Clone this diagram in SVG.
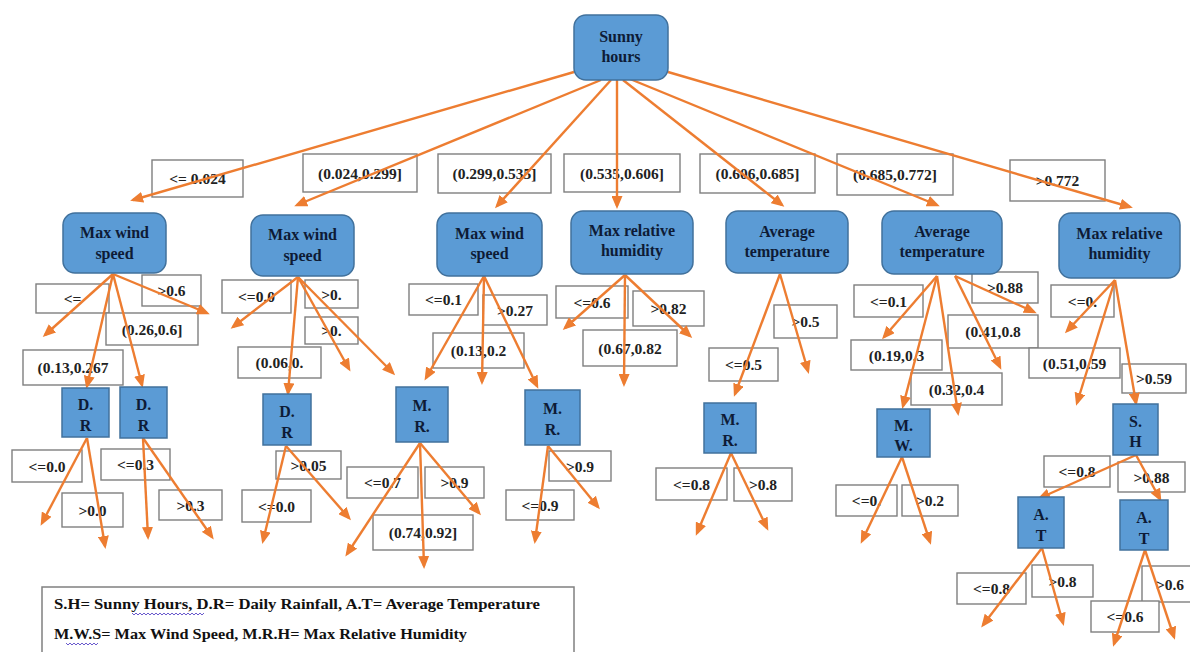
<svg xmlns="http://www.w3.org/2000/svg" width="1190" height="652" viewBox="0 0 1190 652">
<defs>
<marker id="ah" markerUnits="userSpaceOnUse" markerWidth="13" markerHeight="11" refX="10" refY="5.5" orient="auto">
<path d="M0,0 L13,5.5 L0,11 z" fill="#ED7D31"/>
</marker>
<style>
.nd rect{fill:#5B9BD5;stroke:#41719C;stroke-width:1.5}
.nd text{font-family:"Liberation Serif","Times New Roman",serif;font-weight:bold;font-size:16px;fill:#0e1b36;text-anchor:middle}
.lb rect{fill:#fff;stroke:#7f7f7f;stroke-width:1.4}
.lb text{font-family:"Liberation Serif","Times New Roman",serif;font-weight:bold;font-size:15.5px;fill:#222;text-anchor:middle}
.cn path{fill:none;stroke:#ED7D31;stroke-width:2.4;marker-end:url(#ah)}
.lg text{font-family:"Liberation Serif","Times New Roman",serif;font-weight:bold;font-size:14.5px;fill:#111}
</style>
</defs>
<rect width="1190" height="652" fill="#fff"/>

<g id="edge-labels" class="lb">
<rect x="152" y="160" width="91" height="37"/><text x="197.5" y="184">&lt;= 0.024</text>
<rect x="303" y="154" width="114" height="38"/><text x="360" y="178.5">(0.024,0.299]</text>
<rect x="438" y="154" width="113" height="39"/><text x="494.5" y="179">(0.299,0.535]</text>
<rect x="564" y="154" width="116" height="38"/><text x="622" y="178.5">(0.535,0.606]</text>
<rect x="700" y="154" width="115" height="39"/><text x="757.5" y="179">(0.606,0.685]</text>
<rect x="837" y="154" width="116" height="41"/><text x="895" y="180">(0.685,0.772]</text>
<rect x="1010" y="160" width="95" height="41"/><text x="1057.5" y="186">&gt;0.772</text>

<rect x="36" y="284" width="73" height="29"/><text x="72.5" y="304">&lt;=</text>
<rect x="142" y="275" width="59" height="31"/><text x="171.5" y="296">&gt;0.6</text>
<rect x="106" y="313" width="92" height="32"/><text x="152" y="334.5">(0.26,0.6]</text>
<rect x="23" y="350" width="100" height="35"/><text x="73" y="373">(0.13,0.267</text>

<rect x="222" y="280" width="69" height="33"/><text x="256.5" y="302">&lt;=0.0</text>
<rect x="305" y="280" width="53" height="28"/><text x="331.5" y="299.5">&gt;0.</text>
<rect x="305" y="317" width="53" height="27"/><text x="331.5" y="336">&gt;0.</text>
<rect x="238" y="347" width="83" height="31"/><text x="279.5" y="368">(0.06,0.</text>

<rect x="409" y="284" width="69" height="31"/><text x="443.5" y="305">&lt;=0.1</text>
<rect x="483" y="295" width="64" height="30"/><text x="515" y="315.5">&gt;0.27</text>
<rect x="433" y="333" width="91" height="35"/><text x="478.5" y="356">(0.13,0.2</text>

<rect x="556" y="286" width="72" height="32"/><text x="592" y="307.5">&lt;=0.6</text>
<rect x="633" y="291" width="71" height="35"/><text x="668.5" y="314">&gt;0.82</text>
<rect x="583" y="330" width="94" height="36"/><text x="630" y="353.5">(0.67,0.82</text>

<rect x="774" y="305" width="63" height="33"/><text x="805.5" y="327">&gt;0.5</text>
<rect x="709" y="348" width="69" height="33"/><text x="743.5" y="370">&lt;=0.5</text>

<rect x="854" y="285" width="69" height="32"/><text x="888.5" y="306.5">&lt;=0.1</text>
<rect x="972" y="272" width="66" height="31"/><text x="1005" y="293">&gt;0.88</text>
<rect x="948" y="315" width="90" height="33"/><text x="993" y="337">(0.41,0.8</text>
<rect x="851" y="340" width="91" height="30"/><text x="896.5" y="360.5">(0.19,0.3</text>
<rect x="911" y="373" width="91" height="32"/><text x="956.5" y="394.5">(0.32,0.4</text>

<rect x="1051" y="285" width="63" height="32"/><text x="1082.5" y="306.5">&lt;=0.</text>
<rect x="1029" y="348" width="91" height="30"/><text x="1074.5" y="368.5">(0.51,0.59</text>
<rect x="1122" y="364" width="64" height="29"/><text x="1154" y="384">&gt;0.59</text>

<rect x="12" y="450" width="70" height="32"/><text x="47" y="471.5">&lt;=0.0</text>
<rect x="62" y="493" width="61" height="34"/><text x="92.5" y="515.5">&gt;0.0</text>
<rect x="101" y="449" width="69" height="31"/><text x="135.5" y="470">&lt;=0.3</text>
<rect x="159" y="490" width="63" height="30"/><text x="190.5" y="510.5">&gt;0.3</text>
<rect x="276" y="451" width="65" height="28"/><text x="308.5" y="470.5">&gt;0.05</text>
<rect x="242" y="490" width="69" height="32"/><text x="276.5" y="511.5">&lt;=0.0</text>
<rect x="347" y="467" width="71" height="31"/><text x="382.5" y="488">&lt;=0.7</text>
<rect x="425" y="467" width="59" height="31"/><text x="454.5" y="488">&gt;0.9</text>
<rect x="373" y="515" width="100" height="35"/><text x="423" y="538">(0.74,0.92]</text>
<rect x="549" y="451" width="62" height="30"/><text x="580" y="471.5">&gt;0.9</text>
<rect x="506" y="490" width="68" height="30"/><text x="540" y="510.5">&lt;=0.9</text>
<rect x="656" y="468" width="71" height="32"/><text x="691.5" y="489.5">&lt;=0.8</text>
<rect x="734" y="468" width="58" height="33"/><text x="763" y="490">&gt;0.8</text>
<rect x="836" y="485" width="61" height="31"/><text x="866.5" y="506">&lt;=0.</text>
<rect x="902" y="485" width="56" height="31"/><text x="930" y="506">&gt;0.2</text>
<rect x="1044" y="456" width="66" height="31"/><text x="1077" y="477">&lt;=0.8</text>
<rect x="1118" y="462" width="67" height="30"/><text x="1151.5" y="482.5">&gt;0.88</text>
<rect x="957" y="573" width="69" height="31"/><text x="991.5" y="594">&lt;=0.8</text>
<rect x="1032" y="565" width="61" height="32"/><text x="1062.5" y="586.5">&gt;0.8</text>
<rect x="1142" y="566" width="53" height="36"/><text x="1170" y="589.5">&gt;0.6</text>
<rect x="1091" y="601" width="68" height="31"/><text x="1125" y="622">&lt;=0.6</text>
</g>

<g id="connectors" class="cn">
<path d="M574,72 L133,200"/>
<path d="M601,80 L297,205"/>
<path d="M611,80 L497,206"/>
<path d="M617,80 L617,206"/>
<path d="M623,80 L782,205"/>
<path d="M630,79 L937,205"/>
<path d="M668,72 L1130,207"/>

<path d="M113,274 L45,335"/>
<path d="M113,274 L87,386"/>
<path d="M113,274 L142,385"/>
<path d="M113,274 L207,313"/>

<path d="M298,277 L233,327"/>
<path d="M298,277 L288,393"/>
<path d="M298,277 L349,369"/>
<path d="M298,277 L393,373"/>

<path d="M484,276 L426,378"/>
<path d="M484,276 L482,382"/>
<path d="M484,276 L537,386"/>

<path d="M625,275 L565,328"/>
<path d="M625,275 L624,384"/>
<path d="M625,275 L690,336"/>

<path d="M780,274 L735,394"/>
<path d="M780,274 L808,371"/>

<path d="M937,276 L884,337"/>
<path d="M937,276 L903,406"/>
<path d="M937,276 L958,413"/>
<path d="M955,276 L1000,367"/>
<path d="M955,276 L1034,312"/>

<path d="M1115,280 L1067,331"/>
<path d="M1115,280 L1077,403"/>
<path d="M1115,280 L1136,403"/>

<path d="M87,438 L42,523"/>
<path d="M87,438 L105,546"/>
<path d="M143,438 L148,537"/>
<path d="M143,438 L212,537"/>
<path d="M286,446 L263,541"/>
<path d="M286,446 L349,518"/>
<path d="M420,443 L347,554"/>
<path d="M420,443 L424,566"/>
<path d="M420,443 L479,513"/>
<path d="M548,446 L535,541"/>
<path d="M548,446 L598,507"/>
<path d="M731,453 L697,533"/>
<path d="M731,453 L767,528"/>
<path d="M902,457 L862,541"/>
<path d="M902,457 L930,542"/>
<path d="M1136,455 L1040,498"/>
<path d="M1136,455 L1160,499"/>
<path d="M1042,548 L983,625"/>
<path d="M1042,548 L1063,623"/>
<path d="M1145,550 L1114,644"/>
<path d="M1145,550 L1174,637"/>
</g>

<g id="n-root" class="nd"><rect x="574" y="15" width="94" height="65" rx="12"/><text x="621" y="42">Sunny</text><text x="621" y="62">hours</text></g>

<g id="n-mws1" class="nd"><rect x="63" y="213" width="103" height="60" rx="12"/><text x="114.5" y="238">Max wind</text><text x="114.5" y="259">speed</text></g>
<g id="n-mws2" class="nd"><rect x="251" y="215" width="103" height="61" rx="12"/><text x="302.5" y="240">Max wind</text><text x="302.5" y="261">speed</text></g>
<g id="n-mws3" class="nd"><rect x="437" y="213" width="105" height="63" rx="12"/><text x="489.5" y="239">Max wind</text><text x="489.5" y="259">speed</text></g>
<g id="n-mrh1" class="nd"><rect x="571" y="211" width="122" height="63" rx="12"/><text x="632" y="236">Max relative</text><text x="632" y="256">humidity</text></g>
<g id="n-at1" class="nd"><rect x="726" y="211" width="122" height="62" rx="12"/><text x="787" y="237">Average</text><text x="787" y="257">temperature</text></g>
<g id="n-at2" class="nd"><rect x="882" y="211" width="120" height="63" rx="12"/><text x="942" y="237">Average</text><text x="942" y="257">temperature</text></g>
<g id="n-mrh2" class="nd"><rect x="1059" y="213" width="121" height="65" rx="12"/><text x="1119.5" y="239">Max relative</text><text x="1119.5" y="259">humidity</text></g>

<g id="n-dr1" class="nd"><rect x="62" y="388" width="47" height="49"/><text x="85.5" y="410">D.</text><text x="85.5" y="431">R</text></g>
<g id="n-dr2" class="nd"><rect x="120" y="387" width="47" height="51"/><text x="143.5" y="410">D.</text><text x="143.5" y="431">R</text></g>
<g id="n-dr3" class="nd"><rect x="263" y="394" width="48" height="51"/><text x="287" y="417">D.</text><text x="287" y="438">R</text></g>
<g id="n-mr1" class="nd"><rect x="396" y="387" width="52" height="55"/><text x="422" y="411">M.</text><text x="422" y="432">R.</text></g>
<g id="n-mr2" class="nd"><rect x="525" y="390" width="55" height="55"/><text x="552.5" y="414">M.</text><text x="552.5" y="435">R.</text></g>
<g id="n-mr3" class="nd"><rect x="704" y="403" width="52" height="50"/><text x="730" y="425">M.</text><text x="730" y="446">R.</text></g>
<g id="n-mw" class="nd"><rect x="877" y="409" width="53" height="48"/><text x="903.5" y="431">M.</text><text x="903.5" y="451">W.</text></g>
<g id="n-sh" class="nd"><rect x="1113" y="404" width="45" height="51"/><text x="1135.5" y="427">S.</text><text x="1135.5" y="447">H</text></g>
<g id="n-at3" class="nd"><rect x="1018" y="497" width="46" height="51"/><text x="1041" y="520">A.</text><text x="1041" y="541">T</text></g>
<g id="n-at4" class="nd"><rect x="1120" y="500" width="48" height="50"/><text x="1144" y="523">A.</text><text x="1144" y="544">T</text></g>

<g id="legend" class="lg">
<rect x="42" y="587" width="532" height="80" fill="#fff" stroke="#808080" stroke-width="1.5"/>
<text x="54" y="609" textLength="486" lengthAdjust="spacingAndGlyphs">S.H= Sunny Hours,  D.R= Daily Rainfall,  A.T= Average Temperature</text>
<text x="54" y="639" textLength="413" lengthAdjust="spacingAndGlyphs">M.W.S= Max Wind Speed,  M.R.H= Max Relative Humidity</text>
<path d="M132,613 l2,2 l2,-2 l2,2 l2,-2 l2,2 l2,-2 l2,2 l2,-2 l2,2 l2,-2 l2,2 l2,-2 l2,2 l2,-2 l2,2 l2,-2 l2,2 l2,-2 l2,2 l2,-2 l2,2 l2,-2 l2,2 l2,-2 l2,2 l2,-2 l2,2 l2,-2 l2,2 l2,-2 l2,2 l2,-2 l2,2 l2,-2 l2,2 l2,-2" fill="none" stroke="#6a5acd" stroke-width="1"/>
<path d="M66,643 l2,2 l2,-2 l2,2 l2,-2 l2,2 l2,-2 l2,2 l2,-2 l2,2 l2,-2 l2,2 l2,-2 l2,2 l2,-2 l2,2 l2,-2" fill="none" stroke="#6a5acd" stroke-width="1"/>
</g>
</svg>
